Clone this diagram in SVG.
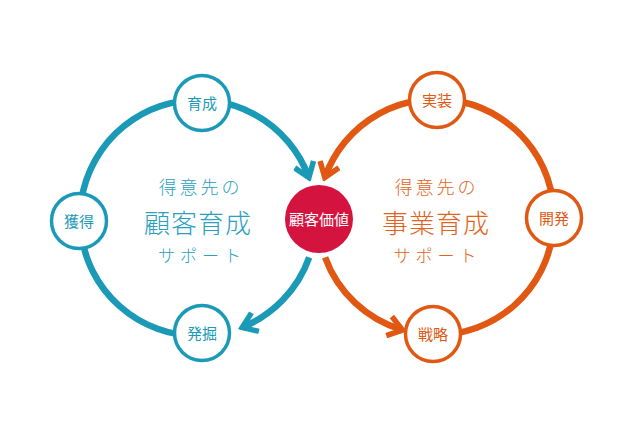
<svg xmlns="http://www.w3.org/2000/svg" width="644" height="436" viewBox="0 0 644 436">
  <style>
    .jp { font-family: "Noto Sans CJK JP", "Noto Sans", sans-serif; text-anchor: middle; }
    .big-t { fill: none; stroke: #1b9ab8; stroke-width: 6.5; }
    .big-o { fill: none; stroke: #e05812; stroke-width: 6.5; }
    .node-t { fill: #ffffff; stroke: #1b9ab8; stroke-width: 3.5; }
    .node-o { fill: #ffffff; stroke: #e05812; stroke-width: 3.5; }
    .lbl { font-size: 15px; }
    .lbl-t { fill: #1b9ab8; }
    .lbl-o { fill: #e05812; }
    .sub { font-size: 18px; font-weight: 300; letter-spacing: 3px; }
    .main { font-size: 26px; font-weight: 300; letter-spacing: 1px; }
    .kana { font-size: 17px; font-weight: 300; letter-spacing: 5px; }
    .txt-t { fill: #2a9fc0; }
    .txt-o { fill: #e2631c; }
  </style>
  <defs>
    <marker id="arrow-t" markerUnits="userSpaceOnUse" viewBox="-20 -12 24 24" refX="0" refY="0" markerWidth="24" markerHeight="24" orient="auto">
      <path d="M-14,-10 L0,0 L-14,10" fill="none" stroke="#1b9ab8" stroke-width="5.5"/>
    </marker>
    <marker id="arrow-o" markerUnits="userSpaceOnUse" viewBox="-20 -12 24 24" refX="0" refY="0" markerWidth="24" markerHeight="24" orient="auto">
      <path d="M-14,-10 L0,0 L-14,10" fill="none" stroke="#e05812" stroke-width="5.5"/>
    </marker>
  </defs>

  <g id="connectors">
    <path class="big-t" d="M198,336 A118,118 0 1 1 308.9,177.6" marker-end="url(#arrow-t)"/>
    <path class="big-t" d="M309.2,257.4 A118,118 0 0 1 242.2,327.4" marker-end="url(#arrow-t)"/>
    <path class="big-o" d="M436,335 A118,118 0 1 0 324.8,177.6" marker-end="url(#arrow-o)"/>
    <path class="big-o" d="M325.1,257.4 A118,118 0 0 0 402.5,330.1" marker-end="url(#arrow-o)"/>
  </g>

  <g id="center-left">
    <text class="jp sub txt-t" x="200.5" y="194">得意先の</text>
    <text class="jp main txt-t" x="198" y="233">顧客育成</text>
    <text class="jp kana txt-t" x="202" y="262">サポート</text>
  </g>
  <g id="center-right">
    <text class="jp sub txt-o" x="436.5" y="194">得意先の</text>
    <text class="jp main txt-o" x="436" y="233">事業育成</text>
    <text class="jp kana txt-o" x="437.5" y="262">サポート</text>
  </g>

  <g id="node-ikusei">
    <circle class="node-t" cx="202" cy="103" r="27.5"/>
    <text class="jp lbl lbl-t" x="202" y="108.5">育成</text>
  </g>
  <g id="node-kakutoku">
    <circle class="node-t" cx="79" cy="221" r="27.5"/>
    <text class="jp lbl lbl-t" x="79" y="226.5">獲得</text>
  </g>
  <g id="node-hakkutsu">
    <circle class="node-t" cx="202" cy="333" r="27.5"/>
    <text class="jp lbl lbl-t" x="202" y="338.5">発掘</text>
  </g>
  <g id="node-jissou">
    <circle class="node-o" cx="437" cy="100" r="27.5"/>
    <text class="jp lbl lbl-o" x="437" y="105.5">実装</text>
  </g>
  <g id="node-kaihatsu">
    <circle class="node-o" cx="554" cy="218" r="27.5"/>
    <text class="jp lbl lbl-o" x="554" y="223.5">開発</text>
  </g>
  <g id="node-senryaku">
    <circle class="node-o" cx="433" cy="334" r="27.5"/>
    <text class="jp lbl lbl-o" x="433" y="339.5">戦略</text>
  </g>
  <g id="node-kokyakukachi">
    <circle cx="319" cy="219" r="34" fill="#d4143f"/>
    <text class="jp lbl" x="319" y="224.5" fill="#ffffff">顧客価値</text>
  </g>
</svg>
